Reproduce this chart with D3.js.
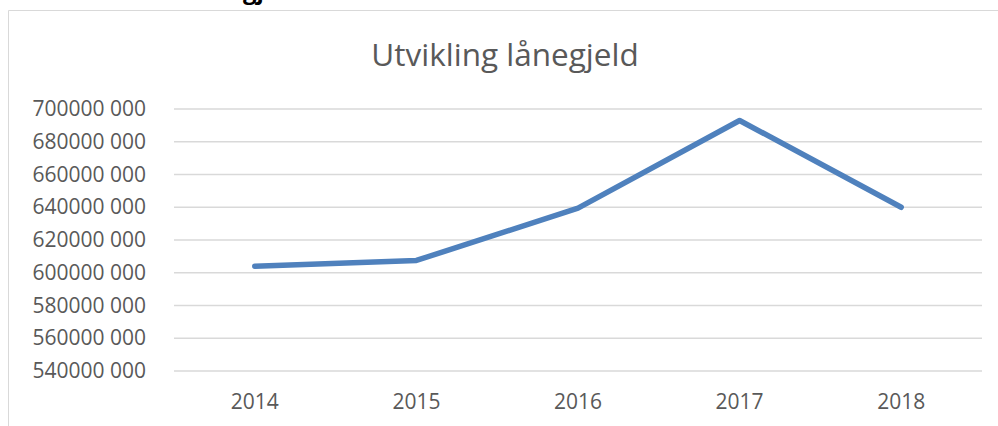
<!DOCTYPE html>
<html>
<head>
<meta charset="utf-8">
<script src="https://cdn.jsdelivr.net/npm/d3@7"></script>
<style>
    body { margin: 0; background: #fff; }
    svg { display: block; }
</style>
</head>
<body>
<script>
// chart values
var years = ["2014", "2015", "2016", "2017", "2018"];
var loanDebt = [604000000, 607500000, 639500000, 693000000, 640000000];
var yTicks = [540000000, 560000000, 580000000, 600000000, 620000000,
              640000000, 660000000, 680000000, 700000000];

var totalWidth = 998,
    totalHeight = 426;

var margin = {"left": 174, "right": 16, "top": 109, "bottom": 55};

var svg = d3.select("body").append("svg")
    .attr("width", totalWidth)
    .attr("height", totalHeight);

// part of a heading that is cut off above the chart
svg.append("text")
    .attr("x", 243)
    .attr("y", -1)
    .style("font-family", "'Open Sans', sans-serif")
    .style("font-weight", "bold")
    .style("font-size", "24px")
    .style("fill", "#000")
    .text("gj");

// chart area border (only top and left are in view)
svg.append("path")
    .attr("d", "M8.5," + totalHeight + "V10.5H" + totalWidth)
    .attr("fill", "none")
    .attr("stroke", "#d9d9d9")
    .attr("stroke-width", 1);

var x = d3.scaleBand()
    .domain(years)
    .range([margin.left, totalWidth - margin.right]);

var y = d3.scaleLinear()
    .domain([540000000, 700000000])
    .range([totalHeight - margin.bottom, margin.top]);

// title
svg.append("text")
    .attr("x", 505)
    .attr("y", 66)
    .attr("text-anchor", "middle")
    .style("font-family", "'Open Sans', sans-serif")
    .style("font-size", "31.5px")
    .style("fill", "#595959")
    .text("Utvikling lånegjeld");

// gridlines
svg.append("g")
    .selectAll("line")
    .data(yTicks).enter()
    .append("line")
    .attr("x1", margin.left)
    .attr("x2", totalWidth - margin.right)
    .attr("y1", function(d) { return y(d); })
    .attr("y2", function(d) { return y(d); })
    .attr("stroke", "#d9d9d9")
    .attr("stroke-width", 1.5);

// y axis labels, "700000 000" style
function fmt(d) {
    var s = String(d);
    return s.slice(0, s.length - 3) + " " + s.slice(s.length - 3);
}

var yAxis = svg.append("g")
    .attr("transform", "translate(" + (margin.left - 28) + ",0)")
    .call(d3.axisLeft(y).tickValues(yTicks).tickFormat(fmt).tickSize(0).tickPadding(0));
yAxis.select(".domain").remove();
yAxis.selectAll("text")
    .style("font-family", "'Open Sans', sans-serif")
    .style("font-size", "21px")
    .style("fill", "#595959");

// x axis labels
var xAxis = svg.append("g")
    .attr("transform", "translate(0," + (totalHeight - margin.bottom) + ")")
    .call(d3.axisBottom(x).tickSize(0).tickPadding(23));
xAxis.select(".domain").remove();
xAxis.selectAll("text")
    .style("font-family", "'Open Sans', sans-serif")
    .style("font-size", "21px")
    .style("fill", "#595959");

// the line
var line = d3.line()
    .x(function(d, i) { return x(years[i]) + x.bandwidth() / 2; })
    .y(function(d) { return y(d); });

svg.append("path")
    .datum(loanDebt)
    .attr("d", line)
    .attr("fill", "none")
    .attr("stroke", "#4f81bd")
    .attr("stroke-width", 5.5)
    .attr("stroke-linecap", "round")
    .attr("stroke-linejoin", "round");
</script>
</body>
</html>
